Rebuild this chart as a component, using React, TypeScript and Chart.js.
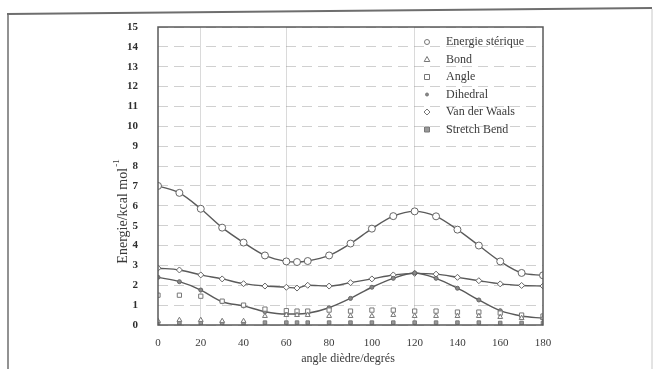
import React, { useEffect, useRef } from "react";
import { Chart, registerables } from "chart.js";

Chart.register(...registerables);

const angles = [0, 10, 20, 30, 40, 50, 60, 65, 70, 80, 90, 100, 110, 120, 130, 140, 150, 160, 170, 180];
const energieSterique = [7.0, 6.65, 5.85, 4.9, 4.15, 3.5, 3.2, 3.17, 3.22, 3.5, 4.1, 4.85, 5.48, 5.72, 5.47, 4.8, 4.0, 3.2, 2.62, 2.5];
const bond = [0.2, 0.25, 0.25, 0.2, 0.2, 0.45, 0.5, 0.5, 0.5, 0.45, 0.45, 0.45, 0.5, 0.45, 0.45, 0.45, 0.45, 0.4, 0.35, 0.35];
const angleE = [1.5, 1.5, 1.45, 1.2, 1.0, 0.8, 0.72, 0.7, 0.7, 0.75, 0.7, 0.75, 0.75, 0.7, 0.7, 0.65, 0.65, 0.6, 0.5, 0.45];
const dihedral = [2.4, 2.18, 1.76, 1.17, 0.96, 0.67, 0.55, 0.55, 0.59, 0.87, 1.34, 1.9, 2.35, 2.62, 2.35, 1.85, 1.26, 0.72, 0.45, 0.34];
const vanDerWaals = [2.86, 2.77, 2.52, 2.32, 2.08, 1.96, 1.9, 1.86, 2.0, 1.96, 2.13, 2.32, 2.52, 2.6, 2.56, 2.4, 2.23, 2.07, 1.99, 1.96];
const stretchBend = [0.1, 0.1, 0.1, 0.1, 0.1, 0.12, 0.12, 0.12, 0.12, 0.12, 0.12, 0.12, 0.12, 0.12, 0.12, 0.12, 0.12, 0.1, 0.1, 0.1];

const seriesNames = ["Energie stérique", "Bond", "Angle", "Dihedral", "Van der Waals", "Stretch Bend"];
const xTicks = [0, 20, 40, 60, 80, 100, 120, 140, 160, 180];
const xTitle = "angle dièdre/degrés";
const yTitle = "Energie/kcal mol";
const yTitleSup = "-1";

const SERIF = "'Liberation Serif', 'DejaVu Serif', serif";
const LINE = "#5a5a5a";

function pts(vals: number[]) {
  return angles.map((a, i) => ({ x: a, y: vals[i] }));
}

const decorPlugin = {
  id: "decor",
  beforeDraw(chart: any) {
    const ctx = chart.ctx;
    ctx.save();
    ctx.fillStyle = "#ffffff";
    ctx.fillRect(0, 0, chart.width, chart.height);
    ctx.strokeStyle = "#6e6e6e";
    ctx.lineWidth = 2;
    ctx.beginPath();
    ctx.moveTo(7, 14);
    ctx.lineTo(652, 8);
    ctx.stroke();
    ctx.lineWidth = 1.5;
    ctx.beginPath();
    ctx.moveTo(8, 14);
    ctx.lineTo(8, 369);
    ctx.stroke();
    ctx.strokeStyle = "#c8c8c8";
    ctx.lineWidth = 1;
    ctx.beginPath();
    ctx.moveTo(652, 9);
    ctx.lineTo(652, 369);
    ctx.stroke();
    ctx.restore();
  },
  afterDraw(chart: any) {
    const ctx = chart.ctx;
    const a = chart.chartArea;
    ctx.save();
    ctx.strokeStyle = LINE;
    ctx.lineWidth = 1.5;
    ctx.strokeRect(a.left, a.top, a.right - a.left, a.bottom - a.top);

    const lx = 427;
    const tx = 446;
    const y0 = 42;
    const dy = 17.5;
    ctx.font = "12px " + SERIF;
    ctx.textBaseline = "middle";
    ctx.textAlign = "left";
    chart.data.datasets.forEach((ds: any, i: number) => {
      const y = y0 + i * dy;
      ctx.fillStyle = "#3a3a3a";
      ctx.fillText(ds.label, tx, y);
      ctx.strokeStyle = "#777";
      ctx.fillStyle = ds.pointBackgroundColor;
      ctx.lineWidth = 1;
      const st = ds.pointStyle;
      ctx.beginPath();
      if (st === "circle") {
        ctx.arc(lx, y, ds.legendR || 2.5, 0, Math.PI * 2);
        ctx.fill();
        ctx.stroke();
      } else if (st === "triangle") {
        ctx.moveTo(lx, y - 3);
        ctx.lineTo(lx + 2.8, y + 2);
        ctx.lineTo(lx - 2.8, y + 2);
        ctx.closePath();
        ctx.fill();
        ctx.stroke();
      } else if (st === "rect") {
        ctx.rect(lx - 2.5, y - 2.5, 5, 5);
        ctx.fill();
        ctx.stroke();
      } else if (st === "rectRot") {
        ctx.moveTo(lx, y - 3);
        ctx.lineTo(lx + 3, y);
        ctx.lineTo(lx, y + 3);
        ctx.lineTo(lx - 3, y);
        ctx.closePath();
        ctx.fill();
        ctx.stroke();
      }
    });

    ctx.fillStyle = "#3a3a3a";
    ctx.font = "12px " + SERIF;
    ctx.textAlign = "center";
    ctx.textBaseline = "middle";
    ctx.fillText(xTitle, 348, 359);

    ctx.translate(123, 212);
    ctx.rotate(-Math.PI / 2);
    ctx.font = "14px " + SERIF;
    const w = ctx.measureText(yTitle).width;
    ctx.font = "9px " + SERIF;
    const ws = ctx.measureText(yTitleSup).width;
    const start = -(w + ws) / 2;
    ctx.textAlign = "left";
    ctx.font = "14px " + SERIF;
    ctx.fillText(yTitle, start, 0);
    ctx.font = "9px " + SERIF;
    ctx.fillText(yTitleSup, start + w + 1, -6);
    ctx.restore();
  },
};

export default function App() {
  const ref = useRef<HTMLCanvasElement | null>(null);

  useEffect(() => {
    if (!ref.current) return;
    const lineDs = (label: string, vals: number[], style: string, r: number, bg: string) => ({
      label,
      data: pts(vals),
      borderColor: LINE,
      borderWidth: 1.4,
      backgroundColor: bg,
      pointBackgroundColor: bg,
      pointBorderColor: "#666",
      pointBorderWidth: 1,
      pointStyle: style,
      pointRadius: r,
      showLine: true,
      tension: 0.4,
      cubicInterpolationMode: "monotone",
      legendR: 2.5,
    });
    const markDs = (label: string, vals: number[], style: string, r: number, bg: string) => ({
      label,
      data: pts(vals),
      borderColor: "#777",
      backgroundColor: bg,
      pointBackgroundColor: bg,
      pointBorderColor: "#777",
      pointBorderWidth: 1,
      pointStyle: style,
      pointRadius: r,
      showLine: false,
    });

    const chart = new Chart(ref.current, {
      type: "scatter",
      data: {
        datasets: [
          lineDs(seriesNames[0], energieSterique, "circle", 3.5, "#ffffff"),
          markDs(seriesNames[1], bond, "triangle", 2.8, "#ffffff"),
          markDs(seriesNames[2], angleE, "rect", 3, "#ffffff"),
          { ...lineDs(seriesNames[3], dihedral, "circle", 2, "#888"), legendR: 1.5 },
          lineDs(seriesNames[4], vanDerWaals, "rectRot", 3, "#ffffff"),
          markDs(seriesNames[5], stretchBend, "rect", 2.5, "#999"),
        ] as any,
      },
      options: {
        responsive: false,
        animation: false,
        layout: { padding: { left: 0, top: 27, right: 111, bottom: 0 } },
        plugins: {
          legend: { display: false },
          tooltip: { enabled: false },
        },
        scales: {
          x: {
            type: "linear",
            min: 0,
            max: 180,
            afterFit: (s: any) => {
              s.height = 44;
            },
            afterBuildTicks: (s: any) => {
              s.ticks = xTicks.map((v) => ({ value: v }));
            },
            border: { display: false },
            grid: {
              drawTicks: false,
              color: (c: any) =>
                c.tick && [20, 60, 120].includes(c.tick.value) ? "rgba(150,150,150,0.35)" : "rgba(0,0,0,0)",
              lineWidth: 1,
            },
            ticks: {
              padding: 12,
              color: "#3a3a3a",
              font: { family: SERIF, size: 11 },
              maxRotation: 0,
            },
          },
          y: {
            type: "linear",
            min: 0,
            max: 15,
            afterFit: (s: any) => {
              s.width = 158;
            },
            border: { display: false, dash: [10, 6] },
            grid: {
              drawTicks: false,
              color: "rgba(150,150,150,0.45)",
              lineWidth: 1,
            },
            ticks: {
              stepSize: 1,
              padding: 20,
              color: "#2e2e2e",
              font: { family: SERIF, size: 11, weight: "bold" },
            },
          },
        },
      } as any,
      plugins: [decorPlugin],
    });
    return () => chart.destroy();
  }, []);

  return (
    <div style={{ position: "absolute", left: 0, top: 0, width: 654, height: 369 }}>
      <canvas ref={ref} width={654} height={369} style={{ display: "block" }} />
    </div>
  );
}
